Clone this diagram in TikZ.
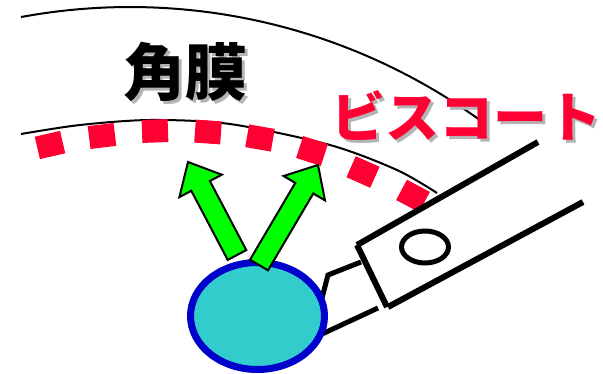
\documentclass[tikz,border=0pt]{standalone}
\usepackage{fontspec}
\newfontfamily\jpfont{Noto Sans CJK JP}
\definecolor{vsred}{HTML}{FF0033}
\definecolor{shadowgray}{HTML}{B4B4B4}
\definecolor{lensfill}{HTML}{33CCCC}
\definecolor{lensrim}{HTML}{0000CC}
\definecolor{flowgreen}{HTML}{00FF00}
\begin{document}
\begin{tikzpicture}[x=1pt,y=-1pt,
  cornea/.style={line width=2pt},
  viscoat/.style={fill=vsred},
  probe/.style={line width=6pt},
  neck/.style={line width=5pt},
  lens/.style={fill=lensfill,draw=lensrim,line width=7pt},
  flow/.style={fill=flowgreen,draw=black,line width=2pt,line join=miter},
  labeljp/.style={font=\jpfont\fontsize{62}{70}\selectfont\bfseries},
  labelvs/.style={font=\jpfont\fontsize{54}{60}\selectfont\bfseries}]
\useasboundingbox (0,0) rectangle (603,374);

% cornea: outer and inner surfaces
\draw[cornea] plot[domain=-100.5:-53.7,samples=90] ({130+598*cos(\x)},{605+598*sin(\x)});
\draw[cornea] plot[smooth] coordinates {(21,134) (80,125) (150,120) (230,124) (330,145) (397,170) (437,193)};

% viscoelastic coating on the endothelium
\foreach \cx/\cy/\a in {50/145/-13, 102/136/-7, 155/131/-2, 208/132/4, 260/138/10, 312/151/18, 363/172/24, 413/196/28}
  \fill[viscoat,shift={(\cx,\cy)},rotate=-\a] (-13,-11.5) rectangle (13,11.5);

% handpiece
\coordinate (pa) at (538,142);
\coordinate (pb) at (357,245);
\coordinate (pc) at (387,307);
\coordinate (pd) at (583,202);
\coordinate (pe) at (388,307);
\draw[probe] (pa) -- (pb);
\draw[probe] (pb) -- (pc);
\draw[probe] (pe) -- (pd);
\draw[line width=5pt] (425,247) ellipse [x radius=23.5, y radius=16];
\coordinate (na) at (361,262);
\coordinate (nb) at (328,275);
\coordinate (nc) at (322,298);
\coordinate (nd) at (378,308);
\coordinate (ne) at (322,334);
\draw[neck,line join=miter] (na) -- (nb) -- (nc);
\draw[neck] (nd) -- (ne);

% nucleus
\draw[lens] (257.5,316) ellipse [x radius=67, y radius=53.5];

% outflow arrows
\draw[flow] (246.3,250.1) -- (209.9,181.0) -- (221.8,174.7) -- (188,162) -- (179.4,197.1) -- (191.3,190.8) -- (227.7,259.9) -- cycle;
\draw[flow] (250.0,259.7) -- (295.3,182.9) -- (283.6,176.0) -- (318,165) -- (325.0,200.4) -- (313.3,193.5) -- (268.0,270.3) -- cycle;

% labels with drop shadows
\node[labeljp,text=shadowgray] (corneashadow) at (188,75) {角膜};
\node[labeljp,text=black] (cornealabel) at (185,72) {角膜};
\node[labelvs,text=shadowgray] (vsshadow) at (469,118) {ビスコート};
\node[labelvs,text=vsred] (vslabel) at (466,115) {ビスコート};
\end{tikzpicture}
\end{document}
